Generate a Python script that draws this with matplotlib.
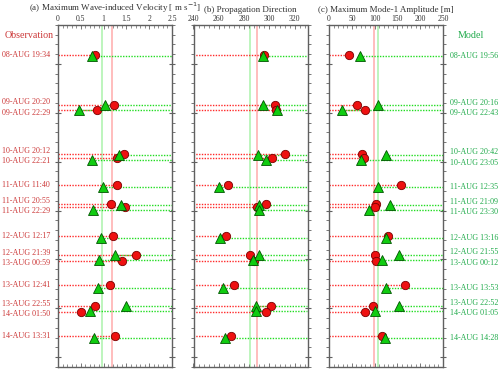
import numpy as np
import matplotlib
matplotlib.use("Agg")
from matplotlib import pyplot as plt
from matplotlib.ticker import MultipleLocator, FormatStrFormatter

plt.rcParams['font.family'] = ['Liberation Serif', 'DejaVu Serif']

# event times (day-of-month, August)
obs_labels = ["08-AUG 19:34", "09-AUG 20:20", "09-AUG 22:29", "10-AUG 20:12", "10-AUG 22:21",
              "11-AUG 11:40", "11-AUG 20:55", "11-AUG 22:29", "12-AUG 12:17", "12-AUG 21:39",
              "13-AUG 00:59", "13-AUG 12:41", "13-AUG 22:55", "14-AUG 01:50", "14-AUG 13:31"]
mod_labels = ["08-AUG 19:56", "09-AUG 20:16", "09-AUG 22:43", "10-AUG 20:42", "10-AUG 23:05",
              "11-AUG 12:35", "11-AUG 21:09", "11-AUG 23:30", "12-AUG 13:16", "12-AUG 21:55",
              "13-AUG 00:12", "13-AUG 13:53", "13-AUG 22:52", "14-AUG 01:05", "14-AUG 14:28"]

# (a) max wave-induced velocity [m/s]
vel_obs = [0.81, 1.22, 0.85, 1.45, 1.29, 1.30, 1.16, 1.47, 1.20, 1.72, 1.40, 1.13, 0.81, 0.50, 1.24]
vel_mod = [0.75, 1.03, 0.45, 1.34, 0.74, 0.99, 1.38, 0.77, 0.94, 1.25, 0.89, 0.88, 1.50, 0.70, 0.80]
# (b) propagation direction [deg]
dir_obs = [296, 304, 305, 312, 302, 267, 297, 290, 266, 285, 288, 272, 301, 297, 270]
dir_mod = [295, 295, 306, 291, 297, 260, 292, 292, 261, 292, 287, 263, 289, 289, 265]
# (c) max mode-1 amplitude [m]
amp_obs = [44, 62, 80, 72, 77, 158, 102, 100, 130, 101, 103, 167, 97, 79, 116]
amp_mod = [68, 108, 29, 126, 70, 108, 134, 88, 124, 154, 117, 124, 153, 101, 122]

# reference (mean) lines: obs, model
vel_ref = (1.18, 0.96)
dir_ref = (290, 285)
amp_ref = (99, 108)


def to_day(s):
    d, rest = s.split("-AUG ")
    h, m = rest.split(":")
    return int(d) + int(h) / 24.0 + int(m) / 1440.0


def spread(t, gap=0.21):
    y = list(t)
    for _ in range(60):
        for i in range(1, len(y)):
            d = y[i] - y[i - 1]
            if d < gap:
                s = (gap - d) / 2
                y[i - 1] -= s
                y[i] += s
    return y


t_obs = [to_day(s) for s in obs_labels]
t_mod = [to_day(s) for s in mod_labels]

red_txt = '#cc3838'
grn_txt = '#1faa4a'
spine_c = '#606060'

fig = plt.figure(figsize=(5.0, 3.76), dpi=100)
lefts = [0.116, 0.387, 0.658]
panels = [
    ("(a) Maximum Wave-induced Velocity [ m s$^{-1}$]", vel_obs, vel_mod, vel_ref, (0, 2.5), 0.5, 0.1, '%g'),
    ("(b) Propagation Direction", dir_obs, dir_mod, dir_ref, (240, 330), 20, 4, '%d'),
    ("(c) Maximum Mode-1 Amplitude [m]", amp_obs, amp_mod, amp_ref, (0, 250), 50, 10, '%d'),
]

for left, (title, ob, md, ref, xl, maj, mnr, fmt) in zip(lefts, panels):
    ax = fig.add_axes([left, 0.024, 0.228, 0.910])
    ax.set_xlim(*xl)
    ax.set_ylim(15.2, 8.2)
    ax.axvline(ref[0], color='#ff9a9a', lw=1.3, alpha=0.7, zorder=1)
    ax.axvline(ref[1], color='#9af09a', lw=1.3, alpha=0.7, zorder=1)
    for i in range(len(ob)):
        ax.plot([xl[0], ob[i]], [t_obs[i], t_obs[i]], ls=(0, (1, 1)), color='#ff2a2a', lw=1.0, zorder=2)
        ax.plot([md[i], xl[1]], [t_mod[i], t_mod[i]], ls=(0, (1, 1)), color='#22dd22', lw=1.0, zorder=2)
    ax.plot(ob, t_obs, 'o', ms=6, mfc='#ee1111', mec='#7a0000', mew=0.6, ls='none', zorder=3)
    ax.plot(md, t_mod, '^', ms=6.5, mfc='#10cc10', mec='#005500', mew=0.6, ls='none', zorder=4)

    ax.xaxis.tick_top()
    ax.xaxis.set_major_locator(MultipleLocator(maj))
    ax.xaxis.set_minor_locator(MultipleLocator(mnr))
    ax.xaxis.set_major_formatter(FormatStrFormatter(fmt))
    ax.yaxis.set_major_locator(MultipleLocator(1))
    ax.yaxis.set_minor_locator(MultipleLocator(0.2))
    ax.tick_params(axis='x', which='both', top=True, bottom=True, direction='in',
                   labelsize=5.5, pad=1.5, colors=spine_c, labelcolor='#333333')
    ax.tick_params(axis='x', which='major', length=3, width=0.6)
    ax.tick_params(axis='x', which='minor', length=2, width=0.5)
    ax.tick_params(axis='y', which='both', left=True, right=True, labelleft=False,
                   colors=spine_c)
    ax.tick_params(axis='y', which='major', direction='inout', length=5, width=0.8)
    ax.tick_params(axis='y', which='minor', direction='out', length=2.5, width=0.6)
    for sp in ax.spines.values():
        sp.set_color(spine_c)
        sp.set_linewidth(1.0)
    ax.set_title(title, fontsize=6.5, pad=2, color='#333333')

# side labels
ax0 = fig.axes[0]
ax2 = fig.axes[2]
for lab, y in zip(obs_labels, spread(t_obs)):
    ax0.text(-0.07, y, lab, transform=ax0.get_yaxis_transform(), ha='right', va='center',
             fontsize=5.8, color=red_txt)
for lab, y in zip(mod_labels, spread(t_mod)):
    ax2.text(1.06, y, lab, transform=ax2.get_yaxis_transform(), ha='left', va='center',
             fontsize=5.8, color=grn_txt)
fig.text(0.01, 0.905, "Observation", fontsize=7.2, color=red_txt, ha='left', va='center')
fig.text(0.915, 0.905, "Model", fontsize=7.2, color=grn_txt, ha='left', va='center')

fig.savefig("out.png", dpi=100)
